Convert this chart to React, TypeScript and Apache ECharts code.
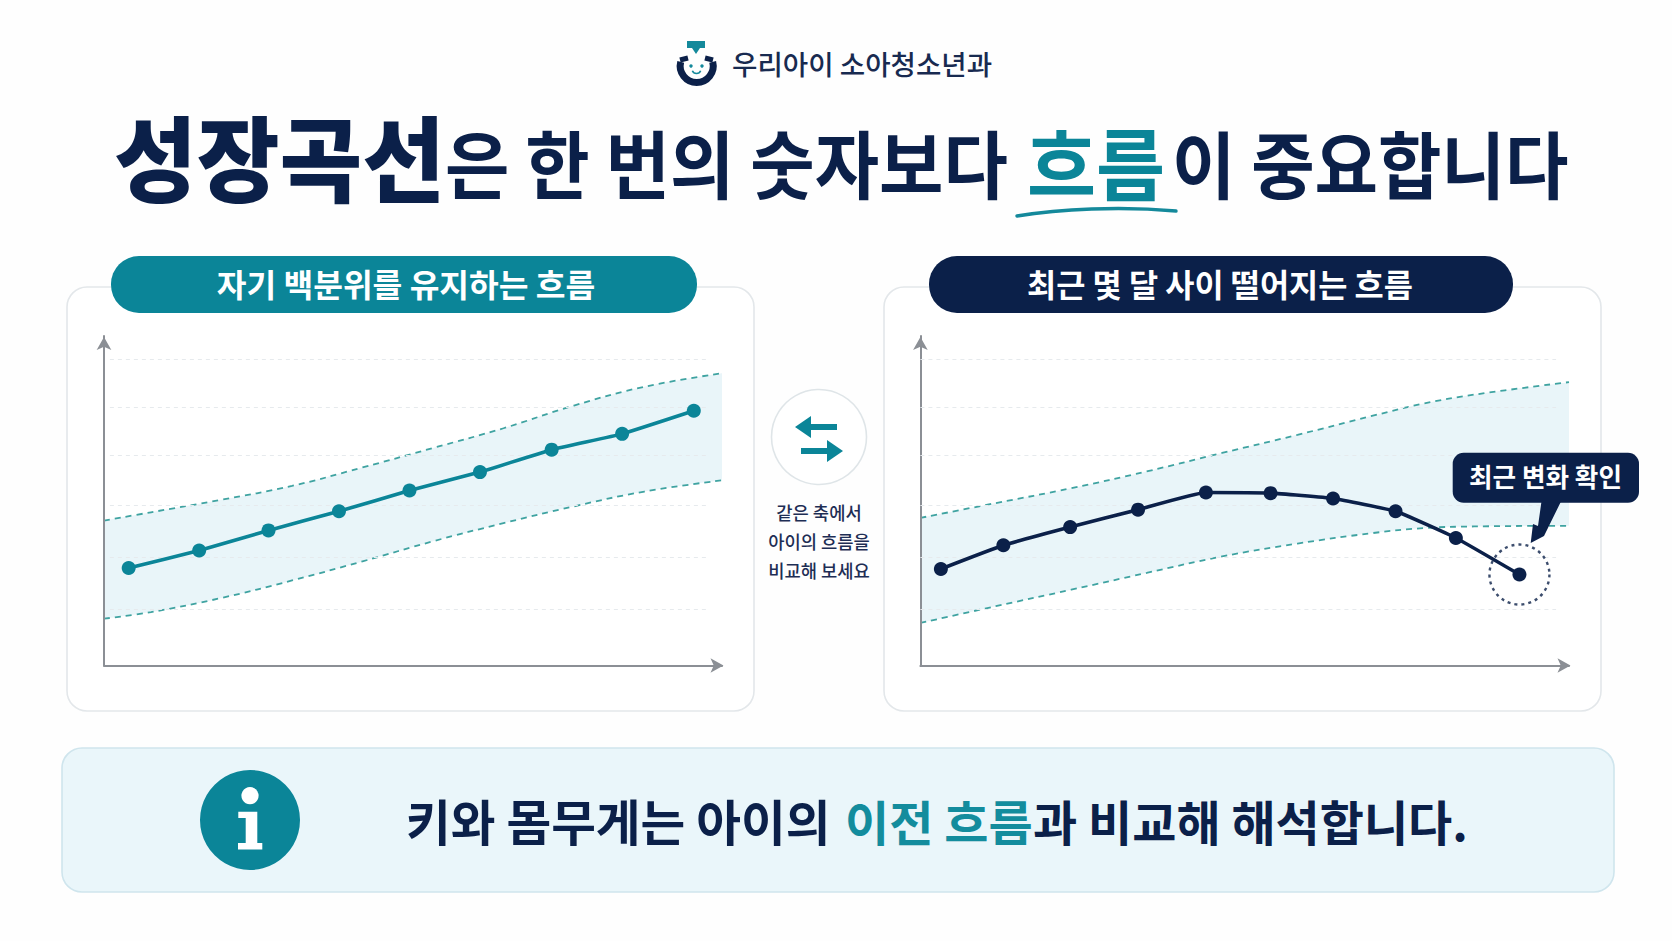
import React, { useEffect, useRef } from "react";
import * as echarts from "echarts";

const FONT = '"Noto Sans CJK KR", "Noto Sans", sans-serif';
const TEAL = "#0b8598";
const NAVY = "#0b2049";
const BAND = "#e9f5f9";
const DASH = "#3fa3a1";
const GRIDLINE = "#e6eaed";
const AXIS = "#8b8f95";

// Left panel: keeps own percentile
const leftAges = [2.1, 8.1, 14, 20, 26, 32, 38.1, 44.1, 50.2];
const leftValues = [29.6, 34.9, 41.0, 46.8, 53.1, 58.7, 65.5, 70.3, 77.3];
const leftBandX = [0, 4, 10, 16, 22, 28, 34, 40, 46, 52.6];
const leftUpper = [44.0, 46.5, 50.3, 54.5, 60.1, 66.0, 72.0, 78.9, 84.6, 88.7];
const leftLower = [14.2, 16.2, 20.5, 25.8, 31.6, 37.7, 43.2, 48.3, 52.8, 56.2];

// Right panel: falling over recent months
const rightAges = [1.9, 7.7, 13.9, 20.2, 26.5, 32.5, 38.3, 44.1, 49.7, 55.6];
const rightValues = [29.3, 36.5, 42.0, 47.3, 52.5, 52.3, 50.7, 46.8, 38.7, 27.6];
const rightBandX = [0, 7, 14, 21, 28, 35, 42, 46.7, 51.4, 60.2];
const rightUpper = [44.8, 49.3, 53.8, 58.9, 64.5, 70.0, 75.8, 79.5, 82.2, 86.0];
const rightLower = [12.9, 18.0, 23.0, 28.1, 33.1, 37.0, 40.2, 41.7, 42.2, 42.4];

const gridLevels = [93.0, 78.5, 63.9, 48.5, 33.0, 17.0];

const zip = (a: number[], b: number[]) => a.map((v, i) => [v, b[i]]);

function panelSeries(
  idx: number,
  ages: number[],
  values: number[],
  bandX: number[],
  upper: number[],
  lower: number[],
  color: string,
  gridFrom: number,
  gridTo: number
): any[] {
  const common = { xAxisIndex: idx, yAxisIndex: idx, type: "line", symbol: "none", silent: true, smooth: 0.4 };
  return [
    {
      ...common,
      name: "upper" + idx,
      lineStyle: { color: DASH, width: 1.8, type: [6, 5] },
      areaStyle: { color: BAND, opacity: 1, origin: "start" },
      data: zip(bandX, upper),
    },
    {
      ...common,
      name: "lower" + idx,
      lineStyle: { color: DASH, width: 1.8, type: [6, 5] },
      areaStyle: { color: "#ffffff", opacity: 1, origin: "start" },
      data: zip(bandX, lower),
      markLine: {
        silent: true,
        symbol: "none",
        label: { show: false },
        lineStyle: { color: GRIDLINE, width: 1.2, type: [4, 4] },
        data: gridLevels.map((g) => [{ coord: [gridFrom, g] }, { coord: [gridTo, g] }]),
      },
    },
    {
      ...common,
      name: "child" + idx,
      smooth: 0.12,
      symbol: "circle",
      symbolSize: 14,
      itemStyle: { color },
      lineStyle: { color, width: 3.6 },
      data: zip(ages, values),
      z: 5,
    },
  ];
}

const axisLine = (offset: number) => ({
  show: true,
  lineStyle: { color: AXIS, width: 2 },
  symbol: ["none", "arrow"],
  symbolSize: [11, 13],
  symbolOffset: [0, offset],
});

function xAxis(gridIndex: number, max: number) {
  return {
    gridIndex,
    type: "value",
    min: 0,
    max,
    z: 4,
    axisLine: axisLine(1.5),
    axisTick: { show: false },
    axisLabel: { show: false },
    splitLine: { show: false },
  };
}
function yAxis(gridIndex: number) {
  return {
    gridIndex,
    type: "value",
    min: 0,
    max: 100,
    z: 4,
    axisLine: axisLine(-1),
    axisTick: { show: false },
    axisLabel: { show: false },
    splitLine: { show: false },
  };
}

function txt(x: number, y: number, text: string, size: number, weight: number, fill: string, align = "left", scaleY = 1): any {
  return {
    type: "text",
    x,
    y,
    z: 20,
    scaleY,
    style: { text, fontSize: size, fontWeight: weight, fill, fontFamily: FONT, align, verticalAlign: "middle" },
  };
}
function rect(x: number, y: number, width: number, height: number, r: number, fill: string, stroke?: string, z = 1): any {
  return { type: "rect", z, shape: { x, y, width, height, r }, style: { fill, stroke: stroke ?? "none", lineWidth: stroke ? 1.6 : 0 } };
}

const graphics: any[] = [
  // Header logo
  { type: "polygon", z: 20, shape: { points: [[687, 41], [705, 41], [705, 48], [700, 48], [696, 54], [692, 48], [687, 48]] }, style: { fill: "#14899b" } },
  { type: "arc", z: 20, shape: { cx: 696.7, cy: 66, r: 16.5, startAngle: -0.25, endAngle: Math.PI + 0.25, clockwise: true }, style: { stroke: NAVY, lineWidth: 7, fill: "none" } },
  { type: "line", z: 20, shape: { x1: 680, y1: 60, x2: 688, y2: 58 }, style: { stroke: NAVY, lineWidth: 5 } },
  { type: "line", z: 20, shape: { x1: 713, y1: 60, x2: 705, y2: 58 }, style: { stroke: NAVY, lineWidth: 5 } },
  { type: "circle", z: 20, shape: { cx: 691, cy: 66, r: 1.7 }, style: { fill: "#14899b" } },
  { type: "circle", z: 20, shape: { cx: 702, cy: 66, r: 1.7 }, style: { fill: "#14899b" } },
  { type: "arc", z: 20, shape: { cx: 696.5, cy: 69, r: 4.5, startAngle: 0.4, endAngle: Math.PI - 0.4, clockwise: true }, style: { stroke: "#14899b", lineWidth: 1.6, fill: "none" } },
  txt(732, 63, "우리아이 소아청소년과", 27.6, 500, "#182a50"),

  // Title
  txt(114, 154, "성장곡선", 90, 900, NAVY, "left", 1.03),
  txt(445, 161, "은 한 번의 숫자보다", 70, 700, NAVY, "left", 1.05),
  txt(1027, 161, "흐름", 75, 700, TEAL, "left", 1.05),
  txt(1172, 161, "이 중요합니다", 69, 700, NAVY, "left", 1.05),
  { type: "bezierCurve", z: 20, shape: { x1: 1017, y1: 216, cpx1: 1060, cpy1: 209, cpx2: 1120, cpy2: 206, x2: 1176, y2: 211 }, style: { stroke: "#14899b", lineWidth: 3.4, fill: "none", lineCap: "round" } },

  // Cards
  rect(67, 287, 687, 424, 20, "#ffffff", "#e3e7ea", 0),
  rect(884, 287, 717, 424, 20, "#ffffff", "#e3e7ea", 0),
  rect(111, 256, 586, 57, 28, TEAL, undefined, 10),
  rect(929, 256, 584, 57, 28, NAVY, undefined, 10),
  txt(406, 283, "자기 백분위를 유지하는 흐름", 32.3, 700, "#ffffff", "center"),
  txt(1220, 283, "최근 몇 달 사이 떨어지는 흐름", 31.7, 700, "#ffffff", "center"),

  // Middle compare badge
  { type: "circle", z: 10, shape: { cx: 819, cy: 437, r: 47.5 }, style: { fill: "#ffffff", stroke: "#dfe5e8", lineWidth: 1.6 } },
  { type: "polygon", z: 20, shape: { points: [[795, 427], [811, 416], [811, 424], [837, 424], [837, 430], [811, 430], [811, 438]] }, style: { fill: TEAL } },
  { type: "polygon", z: 20, shape: { points: [[843, 451], [827, 440], [827, 448], [801, 448], [801, 454], [827, 454], [827, 462]] }, style: { fill: TEAL } },
  txt(819, 512, "같은 축에서", 17.7, 500, "#1e2e55", "center"),
  txt(819, 541, "아이의 흐름을", 17.7, 500, "#1e2e55", "center"),
  txt(819, 570, "비교해 보세요", 17.7, 500, "#1e2e55", "center"),

  // Callout
  { type: "polygon", z: 21, shape: { points: [[1541.7, 500], [1561.7, 500], [1544, 536], [1530.7, 543], [1533, 524], [1538, 526]] }, style: { fill: NAVY } },
  rect(1452.7, 452.7, 186.3, 50, 11, NAVY, undefined, 21),
  { ...txt(1545.5, 475.5, "최근 변화 확인", 25.6, 600, "#ffffff", "center"), z: 22 },

  // Bottom banner
  rect(62, 748, 1552, 144, 20, "#eaf6fa", "#cfe5ed", 0),
  { type: "circle", z: 20, shape: { cx: 250, cy: 820, r: 50 }, style: { fill: TEAL } },
  { type: "circle", z: 21, shape: { cx: 250, cy: 795.7, r: 8.6 }, style: { fill: "#ffffff" } },
  { type: "polygon", z: 21, shape: { points: [[238.3, 811.7], [257.3, 811.7], [257.3, 843], [262.3, 843], [262.3, 849.5], [238, 849.5], [238, 843], [245.7, 843], [245.7, 818], [238.3, 818]] }, style: { fill: "#ffffff" } },
  txt(406, 820, "키와 몸무게는 아이의", 48.6, 700, NAVY),
  txt(845, 820, "이전 흐름", 48, 700, "#138c9d"),
  txt(1033, 820, "과 비교해 해석합니다.", 48, 700, NAVY),
];

export default function App() {
  const ref = useRef<HTMLDivElement>(null);
  useEffect(() => {
    document.body.style.margin = "0";
    const chart = echarts.init(ref.current!, undefined, { renderer: "svg" });
    chart.setOption({
      animation: false,
      backgroundColor: "#fefefe",
      grid: [
        { left: 104, top: 336, width: 618, height: 329.5 },
        { left: 920.4, top: 336, width: 648.6, height: 329.5 },
      ],
      xAxis: [xAxis(0, 52.6), xAxis(1, 60.2)],
      yAxis: [yAxis(0), yAxis(1)],
      graphic: graphics,
      series: [
        ...panelSeries(0, leftAges, leftValues, leftBandX, leftUpper, leftLower, TEAL, 0.5, 51.5),
        ...panelSeries(1, rightAges, rightValues, rightBandX, rightUpper, rightLower, NAVY, 0, 59),
        {
          type: "scatter",
          xAxisIndex: 1,
          yAxisIndex: 1,
          silent: true,
          symbol: "circle",
          symbolSize: 60,
          z: 6,
          itemStyle: { color: "transparent", borderColor: NAVY, borderWidth: 2.4, borderType: [3, 4] },
          data: [[rightAges[rightAges.length - 1], rightValues[rightValues.length - 1]]],
        },
      ],
    });
    return () => chart.dispose();
  }, []);
  return <div ref={ref} style={{ position: "fixed", left: 0, top: 0, width: 1672, height: 941 }} />;
}
